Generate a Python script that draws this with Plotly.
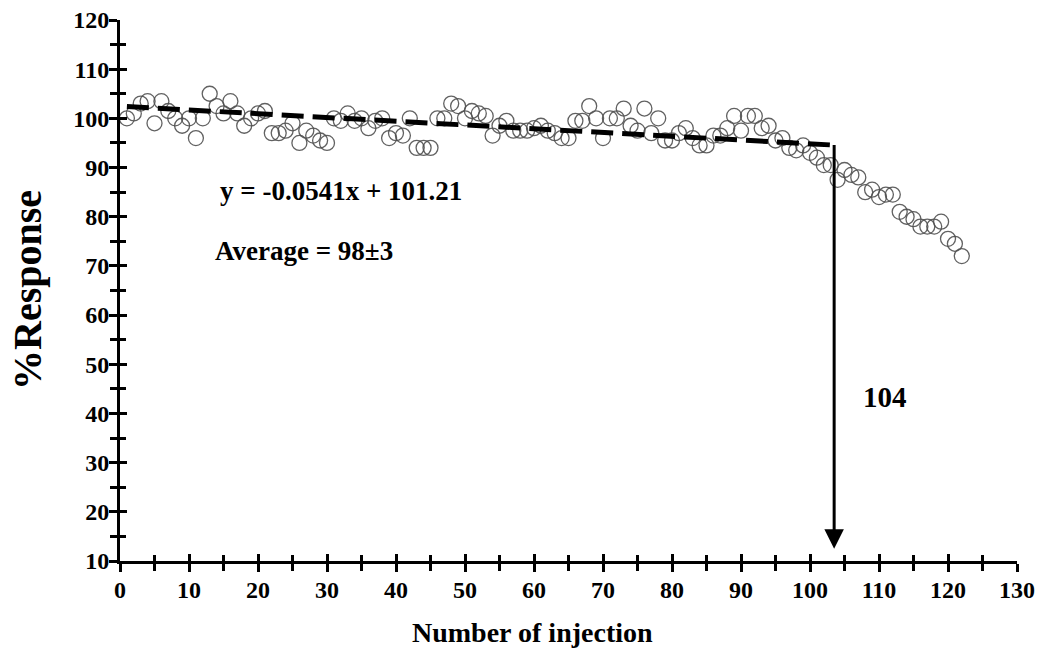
import plotly.graph_objects as go

injection = list(range(1, 123))
response = [100, 101, 103, 103.5, 99, 103.5, 101.5, 100, 98.5, 100,
            96, 100, 105, 102.5, 101, 103.5, 101, 98.5, 100, 101,
            101.5, 97, 97, 97.5, 99, 95, 97.5, 96.5, 95.5, 95,
            100, 99.5, 101, 99.5, 100, 98, 99.5, 100, 96, 97,
            96.5, 100, 94, 94, 94, 100, 100, 103, 102.5, 100,
            101.5, 101, 100.5, 96.5, 98.5, 99.5, 97.5, 97.5, 97.5, 98,
            98.5, 97.5, 97, 96, 96, 99.5, 99.5, 102.5, 100, 96,
            100, 100, 102, 98.5, 97.5, 102, 97, 100, 95.5, 95.5,
            97, 98, 96, 94.5, 94.5, 96.5, 96.5, 98, 100.5, 97.5,
            100.5, 100.5, 98, 98.5, 95.5, 96, 94, 93.5, 94.5, 93,
            92, 90.5, 90.5, 87.5, 89.5, 88.5, 88, 85, 85.5, 84,
            84.5, 84.5, 81, 80, 79.5, 78, 78, 78, 79, 75.5,
            74.5, 72]

trend_x = [1, 103]
trend_y = [102.4, 94.6]

arrow_x = 103.5
arrow_top = 94.6
arrow_bottom = 12.5

x_ticks = list(range(0, 131, 10))
y_ticks = list(range(10, 121, 10))

FONT = "Liberation Serif"

# plot-area geometry in pixels (for placing axis titles)
W, H = 1040, 650
ML, MR, MT, MB = 120, 23, 20, 89
PW, PH = W - ML - MR, H - MT - MB


def px_x(p):
    return (p - ML) / PW


def px_y(p):
    return (H - MB - p) / PH


fig = go.Figure()
fig.add_trace(go.Scatter(
    x=injection, y=response, mode="markers",
    marker=dict(symbol="circle-open", size=15,
                line=dict(color="rgba(80,80,80,0.9)", width=1.3),
                color="rgba(80,80,80,0.9)"),
    showlegend=False, hoverinfo="skip"))
fig.add_trace(go.Scatter(
    x=trend_x, y=trend_y, mode="lines",
    line=dict(color="black", width=5, dash="22px,9px"),
    showlegend=False, hoverinfo="skip"))
fig.add_trace(go.Scatter(
    x=[arrow_x, arrow_x], y=[arrow_top, arrow_bottom + 2.5], mode="lines",
    line=dict(color="black", width=3),
    showlegend=False, hoverinfo="skip"))

fig.add_annotation(x=arrow_x, y=arrow_bottom, ax=arrow_x, ay=arrow_bottom + 3,
                   xref="x", yref="y", axref="x", ayref="y",
                   showarrow=True, arrowhead=2, arrowsize=1.3, arrowwidth=3,
                   arrowcolor="black", text="")

annot_font = dict(family=FONT, size=27, color="black", weight="bold")
fig.add_annotation(x=14.2, y=85.3, xref="x", yref="y", xanchor="left", yanchor="middle",
                   text="y = -0.0541x + 101.21", showarrow=False, font=annot_font)
fig.add_annotation(x=13.5, y=73.0, xref="x", yref="y", xanchor="left", yanchor="middle",
                   text="Average = 98±3", showarrow=False, font=annot_font)
fig.add_annotation(x=110.9, y=43.4, xref="x", yref="y", xanchor="center", yanchor="middle",
                   text="104", showarrow=False,
                   font=dict(family=FONT, size=29, color="black", weight="bold"))

# axis titles
fig.add_annotation(x=px_x(532), y=px_y(632), xref="paper", yref="paper",
                   xanchor="center", yanchor="middle", showarrow=False,
                   text="Number of injection",
                   font=dict(family=FONT, size=28, color="black", weight="bold"))
fig.add_annotation(x=px_x(27), y=px_y(290), xref="paper", yref="paper",
                   xanchor="center", yanchor="middle", showarrow=False, textangle=-90,
                   text="%Response",
                   font=dict(family=FONT, size=40, color="black", weight="bold"))

tickfont = dict(family=FONT, size=24, color="black", weight="bold")

fig.update_layout(
    width=W, height=H,
    margin=dict(l=ML, r=MR, t=MT, b=MB),
    plot_bgcolor="white", paper_bgcolor="white",
    xaxis=dict(range=[0, 130], tickvals=x_ticks, ticktext=[str(v) for v in x_ticks],
               showgrid=False, zeroline=False, showline=True, linecolor="black", linewidth=3,
               ticks="outside", ticklen=8, tickwidth=3, tickcolor="black",
               minor=dict(dtick=5, tick0=0, ticks="outside", ticklen=7, tickwidth=3, tickcolor="black"),
               tickfont=tickfont, automargin=False, ticklabelstandoff=-3),
    yaxis=dict(range=[10, 120], tickvals=y_ticks, ticktext=[str(v) for v in y_ticks],
               showgrid=False, zeroline=False, showline=True, linecolor="black", linewidth=3,
               ticks="outside", ticklen=8, tickwidth=3, tickcolor="black",
               minor=dict(dtick=5, tick0=0, ticks="outside", ticklen=7, tickwidth=3, tickcolor="black"),
               tickfont=tickfont, automargin=False, ticklabelstandoff=-5),
    xaxis2=dict(range=[0, 130], overlaying="x", anchor="y", side="bottom",
                tickvals=x_ticks, showticklabels=False, showgrid=False, zeroline=False,
                ticks="inside", ticklen=7, tickwidth=3, tickcolor="black", automargin=False,
                minor=dict(dtick=5, tick0=0, ticks="inside", ticklen=6, tickwidth=3, tickcolor="black")),
    yaxis2=dict(range=[10, 120], overlaying="y", anchor="x", side="left",
                tickvals=y_ticks, showticklabels=False, showgrid=False, zeroline=False,
                ticks="inside", ticklen=7, tickwidth=3, tickcolor="black", automargin=False,
                minor=dict(dtick=5, tick0=0, ticks="inside", ticklen=6, tickwidth=3, tickcolor="black")),
)
fig.add_trace(go.Scatter(x=[None], y=[None], xaxis="x2", yaxis="y2",
                         showlegend=False, hoverinfo="skip"))

fig.write_html("out.html")
